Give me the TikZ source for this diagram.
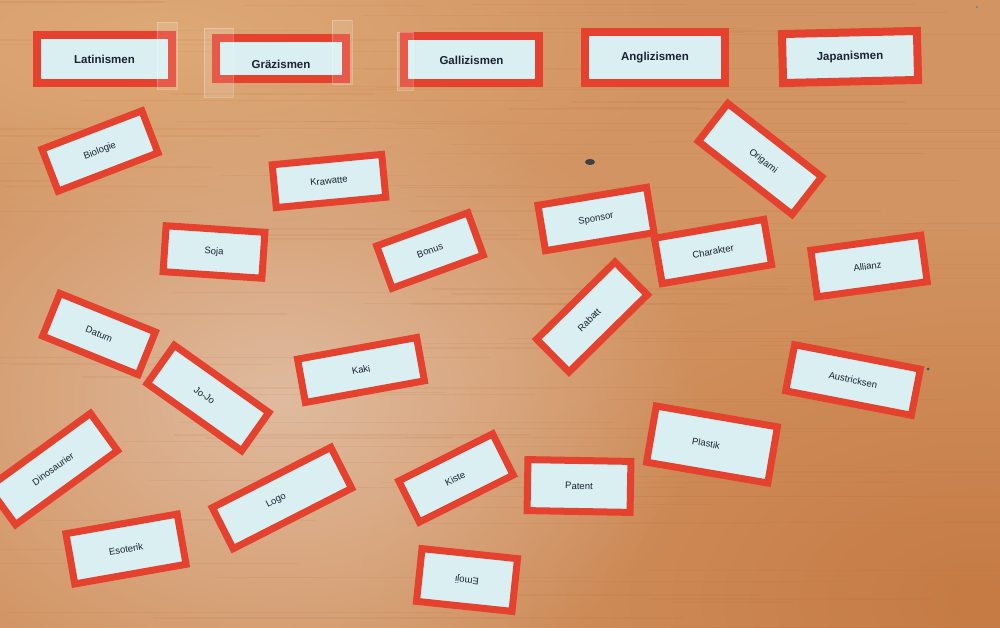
\documentclass[tikz,border=0pt]{standalone}
\usepackage{fontspec}
\setmainfont{Liberation Sans}
\usetikzlibrary{fadings}
\definecolor{cardred}{HTML}{E4412F}
\definecolor{cardface}{HTML}{DAEFF1}
\definecolor{woodbase}{HTML}{D29462}
\definecolor{woodlight}{HTML}{E0AE7C}
\definecolor{woodglare}{HTML}{E2C2AA}
\definecolor{wooddark}{HTML}{B66A36}
\definecolor{wooddeep}{HTML}{C4763F}
\definecolor{inkblue}{HTML}{1B2233}

\tikzfading[name=glow, inner color=transparent!15, outer color=transparent!100]

\tikzset{
  card/.style={draw=cardred, fill=cardface, line width=7pt, inner sep=0pt,
    text=inkblue, font=\fontsize{9.5}{11}\selectfont},
  headcard/.style={card, line width=8pt, font=\fontsize{11.5}{13}\selectfont\bfseries},
  tape/.style={fill=white, fill opacity=0.13, draw=white, draw opacity=0.25, line width=0.5pt},
  grain/.style={draw=wooddark, opacity=0.1}
}

\begin{document}
\begin{tikzpicture}[x=1pt, y=-1pt]
  % table top
  \clip (0,0) rectangle (1000,628);
  \fill[woodbase] (0,0) rectangle (1000,628);
  \fill[woodlight, path fading=glow] (160,40) ellipse (520 and 200);
  \fill[wooddeep, path fading=glow] (980,600) ellipse (620 and 380);
  \fill[woodglare, path fading=glow] (280,400) ellipse (420 and 320);
  \pgfmathsetseed{11}
  \foreach \i in {1,...,120} {
    \pgfmathsetmacro\gx{rnd*900-100}
    \pgfmathsetmacro\gy{rnd*628}
    \pgfmathsetmacro\gl{120+rnd*420}
    \pgfmathsetmacro\gw{0.5+rnd*1.4}
    \draw[grain, line width=\gw pt] (\gx,\gy) -- ++(\gl,0);
  }

  % headings
  \foreach \nm/\x/\y/\w/\h/\a/\t in {
      latin/104.5/59/135/48/0/Latinismen,
      graez/281/59/130/41/0/{\raisebox{-5pt}[\height][\depth]{Gräzismen}},
      galli/471.5/60/135/47/0/Gallizismen,
      angli/655/57.5/140/51/0/Anglizismen,
      japan/850/57/135/49/1.3/Japanismen} {
    \node[headcard, minimum width=\w pt, minimum height=\h pt, rotate=\a] (\nm) at (\x,\y) {\t};
  }

  % loose word cards
  \foreach \nm/\x/\y/\w/\h/\a/\dx/\t in {
      biologie/100/151/107/45/21/0/Biologie,
      krawatte/329/181/110/43/5.4/0/Krawatte,
      soja/214/252/99/46/-3.8/0/Soja,
      bonus/430/250.5/97/45/20/0/Bonus,
      charakter/713/251.5/111/46/9.8/0/Charakter,
      sponsor/596/219/110/46/9.4/0/Sponsor,
      origami/760/159/119/48/-38/8/Origami,
      allianz/869/266/111/47/7.8/-3/Allianz,
      rabatt/592/317/110/46/44.6/-8/Rabatt,
      kaki/361/370/121/44/10.3/0/Kaki,
      datum/99/334/103/46/-22/0/Datum,
      jojo/208/398/116/47/-35.4/-9/Jo-Jo,
      dino/53/469/126/46/36/0/Dinosaurier,
      esoterik/126/549/113/51/10/0/Esoterik,
      logo/282/498/133/46/27/-13/Logo,
      kiste/456/478/105/46/26.6/-2/Kiste,
      patent/579/486/103/51/-1/0/Patent,
      emoji/467/580/96/53/174/0/Emoji,
      plastik/712/444.5/123/57/-9.75/-12/Plastik,
      austr/853/380/128/47/-11/0/Austricksen} {
    \node[card, minimum width=\w pt, minimum height=\h pt, rotate=\a] (\nm)
      at (\x,\y) {\hspace{\dx pt}\t\hspace{-\dx pt}};
  }

  % tape strips on the headings
  \draw[tape] (157,22) rectangle (177,89);
  \draw[tape] (204,28) rectangle (233,97);
  \draw[tape] (332,20) rectangle (352,84);
  \draw[tape] (397,32) rectangle (413,90);

  % crumbs
  \fill[black!75] (590,162) ellipse (5 and 3);
  \fill[black!70] (928,369) circle (1.5);
  \fill[black!50] (977,7) circle (1.2);
\end{tikzpicture}
\end{document}
